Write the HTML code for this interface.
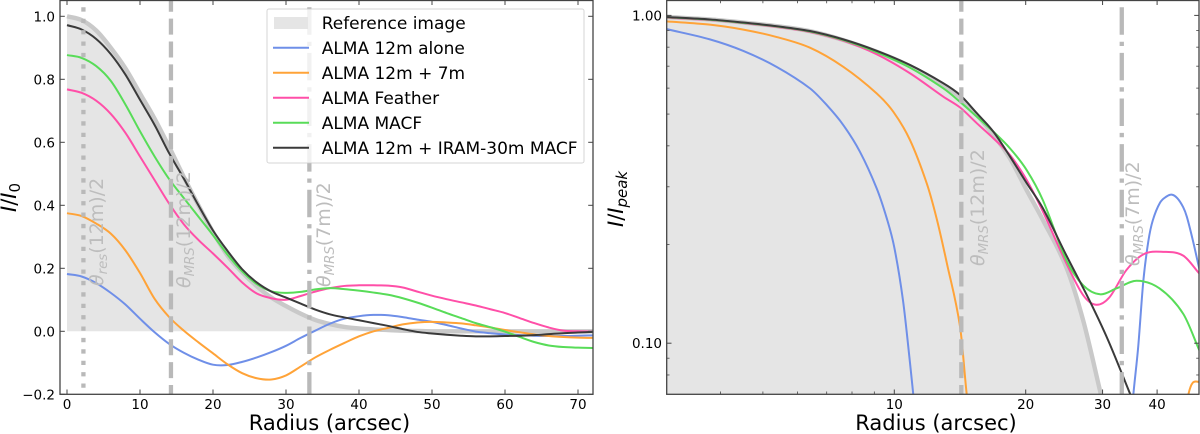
<!DOCTYPE html>
<html lang="en">
<head>
<meta charset="utf-8">
<title>Radial intensity profiles</title>
<style>
html,body{margin:0;padding:0;background:#fff;width:1200px;height:434px;overflow:hidden}
svg{display:block;font-family:"DejaVu Sans","Liberation Sans",sans-serif}
</style>
</head>
<body>
<svg id="fig" width="1200" height="434" viewBox="0 0 1200 434" xmlns="http://www.w3.org/2000/svg">
  <defs>
    <clipPath id="clipL"><rect x="60" y="0.5" width="533" height="393.8"/></clipPath>
    <clipPath id="clipR"><rect x="666.7" y="0.5" width="532.3" height="393.8"/></clipPath>
  </defs>
  <g id="left"></g>
  <g id="right"></g>

  <text transform="translate(16,212) rotate(-90)" font-size="21" fill="#000"><tspan font-style="italic">I</tspan>/<tspan font-style="italic">I</tspan><tspan dy="4" font-size="15">0</tspan></text>
  <text transform="translate(623,227) rotate(-90)" font-size="21" fill="#000"><tspan font-style="italic">I</tspan>/<tspan font-style="italic">I</tspan><tspan dy="4" font-size="15" font-style="italic">peak</tspan></text>
  <text x="329.5" y="430" text-anchor="middle" font-size="21" fill="#000">Radius (arcsec)</text>
  <text x="936" y="430" text-anchor="middle" font-size="21" fill="#000">Radius (arcsec)</text>

  <g font-size="17" fill="#000">
    <rect x="267" y="9" width="317" height="154" rx="2" fill="#fff" fill-opacity="0.8" stroke="#ccc" stroke-opacity="0.8"/>
    <rect x="274" y="17" width="34" height="12" fill="#e5e5e5"/>
    <line x1="273" x2="309" y1="47.8" y2="47.8" stroke="#6f8fe8" stroke-width="2"/>
    <line x1="273" x2="309" y1="72.8" y2="72.8" stroke="#ffa338" stroke-width="2"/>
    <line x1="273" x2="309" y1="97.8" y2="97.8" stroke="#ff4fa8" stroke-width="2"/>
    <line x1="273" x2="309" y1="122.8" y2="122.8" stroke="#58dc58" stroke-width="2"/>
    <line x1="273" x2="309" y1="147.8" y2="147.8" stroke="#3a3a3a" stroke-width="2"/>
    <text x="321.7" y="29">Reference image</text>
    <text x="321.7" y="54">ALMA 12m alone</text>
    <text x="321.7" y="79">ALMA 12m + 7m</text>
    <text x="321.7" y="104">ALMA Feather</text>
    <text x="321.7" y="129">ALMA MACF</text>
    <text x="321.7" y="154">ALMA 12m + IRAM-30m MACF</text>
  </g>
</svg>
<script>
// ---- Linear panel data ----
const leftRadius = [0,2,4,6,8,10,12,14,16,18,20,22,24,26,28,30,32,34,36,38,40,42,44,46,48,50,52,54,56,58,60,62,64,66,68,70,72];
const leftReference = [1.00,.988,.955,.90,.835,.755,.675,.585,.49,.40,.315,.24,.187,.143,.107,.08,.056,.036,.023,.014,.009,.006,.004,.002,.001,0,0,0,0,0,0,0,0,0,0,0,0];
const leftBlue = [.182,.174,.153,.122,.085,.04,-.003,-.04,-.068,-.09,-.106,-.107,-.097,-.083,-.066,-.046,-.021,.002,.024,.04,.048,.052,.051,.045,.037,.03,.02,.009,-.001,-.006,-.01,-.012,-.014,-.015,-.015,-.014,-.013];
const leftOrange = [.375,.366,.342,.31,.257,.185,.103,.045,.002,-.035,-.07,-.105,-.133,-.149,-.153,-.14,-.112,-.083,-.059,-.037,-.016,0,.011,.022,.028,.03,.028,.025,.019,.012,.004,-.003,-.01,-.015,-.018,-.02,-.021];
const leftPink = [.768,.757,.732,.69,.63,.555,.48,.405,.34,.29,.247,.202,.155,.12,.105,.10,.112,.126,.137,.144,.146,.146,.145,.139,.126,.113,.102,.092,.082,.07,.058,.042,.026,.012,.002,0,-.001];
const leftGreen = [.877,.868,.842,.795,.72,.635,.555,.483,.423,.364,.305,.243,.19,.15,.127,.122,.125,.133,.137,.134,.129,.123,.116,.105,.091,.075,.058,.042,.026,.013,-.001,-.018,-.034,-.045,-.05,-.052,-.053];
const leftBlack = [.972,.958,.928,.88,.815,.735,.655,.565,.485,.40,.32,.255,.197,.155,.126,.107,.088,.069,.054,.044,.035,.026,.017,.007,-.002,-.007,-.011,-.014,-.016,-.016,-.015,-.014,-.012,-.009,-.006,-.004,-.002];
const leftXTicks = [0,10,20,30,40,50,60,70];
const leftYTicks = [-0.2,0,0.2,0.4,0.6,0.8,1.0];
const leftYTickLabels = ["\u22120.2","0.0","0.2","0.4","0.6","0.8","1.0"];

// ---- Log panel data ----
const rightRefRadius = [3,3.78,4.51,5.38,6.41,7.64,9.11,10.86,12.95,14.14,15.45,16.86,18.41,20.1,21.9,24.8,27.1,29.6,30.5];
const rightRefValue = [.989,.972,.951,.927,.895,.841,.775,.70,.613,.5625,.497,.432,.366,.293,.2376,.17,.117,.0716,.06];
const rightBlueRadius = [3,3.78,4.51,5.38,6.41,7,7.64,8.34,9.11,9.61,10,10.47,10.87,11.05,11.2,null,35,35.3,36.2,37.2,38.2,39.1,40.6,42,43.2,44.5,45.9,46.8,48.3,50];
const rightBlueValue = [.909,.845,.779,.696,.599,.533,.463,.384,.297,.2404,.196,.135,.0865,.07,.06,null,.06,.07,.0973,.155,.205,.237,.268,.28,.284,.277,.26,.243,.206,.168];
const rightOrangeRadius = [3,3.78,4.51,5.38,6.41,7.64,9.11,9.95,10.86,11.86,12.5,13.2,14.15,14.65,14.9,null,47,47.2,48.3,50];
const rightOrangeValue = [.959,.937,.905,.859,.797,.697,.5785,.508,.417,.308,.2404,.175,.112,.07,.06,null,.065,.07,.0758,.0762];
const rightPinkRadius = [3,3.78,4.51,5.38,6.41,7.64,9.11,10.86,12.95,14.14,15.45,16.86,18.41,20.1,21.9,24.8,27.1,29,31.1,34,37.3,41.3,45.9,50];
const rightPinkValue = [.985,.968,.947,.922,.89,.837,.761,.666,.565,.524,.469,.422,.375,.315,.252,.175,.14,.131,.138,.167,.187,.19,.185,.163];
const rightGreenRadius = [3,3.78,4.51,5.38,6.41,7.64,9.11,10.86,12.95,14.14,15.45,16.86,18.41,20.1,21.9,24.8,27.1,29.6,32.3,35.9,40.5,45.9,50];
const rightGreenValue = [.987,.97,.949,.925,.893,.841,.772,.693,.599,.545,.491,.442,.393,.3375,.273,.179,.15,.141,.147,.155,.147,.123,.095];
const rightBlackRadius = [3,3.78,4.51,5.38,6.41,7.64,9.11,10.86,12.95,14.14,15.45,16.86,18.41,20.1,21.9,24.8,28,30.9,34.7,35.5];
const rightBlackValue = [.989,.972,.951,.927,.896,.845,.78,.706,.621,.572,.503,.442,.371,.308,.258,.185,.135,.102,.07,.065];
const rightXMajor = [10,20,30,40];
const rightXMajorLabels = ["10","20","30","40"];
const rightXMinor = [4,5,6,7,8,9];
const rightYMajor = [1,0.1];
const rightYMajorLabels = ["1.00","0.10"];
const rightYMinor = [0.9,0.8,0.7,0.6,0.5,0.4,0.3,0.2,0.09,0.08];

// ---- Reference scales (arcsec) ----
const scaleRadii = [2.25, 14.24, 33.2];

const NS = "http://www.w3.org/2000/svg";
const xL = r => 67 + 7.3 * r;
const yL = v => 331.3 - 315 * v;
const xR = r => 894.3 + 436.5 * Math.log10(r / 10);
const yR = v => 15.4 - 327.8 * Math.log10(v);

function add(parent, tag, attrs, text) {
  const el = document.createElementNS(NS, tag);
  for (const k in attrs) el.setAttribute(k, attrs[k]);
  if (text !== undefined) el.textContent = text;
  parent.appendChild(el);
  return el;
}

function smooth(points) {
  if (points.length < 2) return "";
  const n = points.length;
  const slope = i => {
    const a = points[Math.max(i - 1, 0)], b = points[Math.min(i + 1, n - 1)];
    return (b[1] - a[1]) / (b[0] - a[0]);
  };
  let d = "M" + points[0][0].toFixed(2) + " " + points[0][1].toFixed(2);
  for (let i = 0; i < n - 1; i++) {
    const p1 = points[i], p2 = points[i + 1];
    const h = (p2[0] - p1[0]) / 3;
    d += "C" + (p1[0] + h).toFixed(2) + " " + (p1[1] + slope(i) * h).toFixed(2) + " " + (p2[0] - h).toFixed(2) + " " + (p2[1] - slope(i + 1) * h).toFixed(2) + " " + p2[0].toFixed(2) + " " + p2[1].toFixed(2);
  }
  return d;
}

function pathFor(rs, vs, fx, fy) {
  let d = "", seg = [];
  rs.forEach((r, i) => {
    if (r === null) { d += smooth(seg); seg = []; }
    else seg.push([fx(r), fy(vs[i])]);
  });
  return d + smooth(seg);
}

function series(g, name, rs, vs, fx, fy, color, width) {
  const p = add(g, "path", { d: pathFor(rs, vs, fx, fy), fill: "none", stroke: color, "stroke-width": width, "stroke-linejoin": "round" });
  
  
}

function vline(g, name, x, dash, top) {
  const l = add(g, "line", { x1: x, x2: x, y1: top, y2: 394.3, stroke: "#b9b9b9", "stroke-width": 4.3, "stroke-dasharray": dash });
  
  
}

function scaleLabel(g, name, bx, by, sub, rest) {
  const t = add(g, "text", { transform: "translate(" + bx + "," + by + ") rotate(-90)", "font-size": 19, fill: "#bdbdbd" });
  
  
  add(t, "tspan", { "font-style": "italic" }, "\u03b8");
  add(t, "tspan", { "font-style": "italic", dy: 4, "font-size": 13.3 }, sub);
  add(t, "tspan", { dy: -4 }, "(" + rest + ")/2");
}

function frame(g, name, x0, x1) {
  const r = add(g, "rect", { x: x0, y: 0.5, width: x1 - x0, height: 393.8, fill: "none", stroke: "#444", "stroke-width": 1.3 });
  
  
}

function tick(g, name, x1, y1, x2, y2, w) {
  const l = add(g, "line", { x1: x1, y1: y1, x2: x2, y2: y2, stroke: "#444", "stroke-width": w });
  
  
}

function tickLabel(g, name, x, y, anchor, s) {
  const t = add(g, "text", { x: x, y: y, "text-anchor": anchor, "font-size": 13.5, fill: "#000" }, s);
  
  
}

// ---- Left panel ----
const gL = document.getElementById("left");
const clipGL = add(gL, "g", { "clip-path": "url(#clipL)" });
const fillL = add(clipGL, "path", { d: smooth(leftRadius.map((r, i) => [xL(r), yL(leftReference[i])])) + "L" + xL(leftRadius[leftRadius.length - 1]) + " " + yL(0) + "L" + xL(leftRadius[0]) + " " + yL(0) + "Z", fill: "#e5e5e5" });


series(clipGL, "reference-line", leftRadius, leftReference, xL, yL, "#c9c9c9", 4.4);
series(clipGL, "alma-12m-line", leftRadius, leftBlue, xL, yL, "#6f8fe8", 2);
series(clipGL, "alma-12m-7m-line", leftRadius, leftOrange, xL, yL, "#ffa338", 2);
series(clipGL, "alma-feather-line", leftRadius, leftPink, xL, yL, "#ff4fa8", 2);
series(clipGL, "alma-macf-line", leftRadius, leftGreen, xL, yL, "#58dc58", 2);
series(clipGL, "alma-iram-macf-line", leftRadius, leftBlack, xL, yL, "#3a3a3a", 2);
vline(clipGL, "res-12m-line", xL(scaleRadii[0]), "4.3 7.1", 7.3);
vline(clipGL, "mrs-12m-line", xL(scaleRadii[1]), "16 6.9", -4.3);
vline(clipGL, "mrs-7m-line", xL(scaleRadii[2]), "27.5 6.9 4.3 6.9", 7.3);
scaleLabel(gL, "res-12m-label", 103, 286, "res", "12m");
scaleLabel(gL, "mrs-12m-label", 190, 288, "MRS", "12m");
scaleLabel(gL, "mrs-7m-label", 330, 287, "MRS", "7m");
frame(gL, "left-axes-frame", 60, 593);
leftXTicks.forEach(v => {
  tick(gL, "left-x-tick", xL(v), 394.3, xL(v), 389.5, 1);
  tick(gL, "left-x-tick-top", xL(v), 0.5, xL(v), 5, 1);
  tickLabel(gL, "left-x-tick-label", xL(v), 409, "middle", String(v));
});
leftYTicks.forEach((v, i) => {
  tick(gL, "left-y-tick", 60, yL(v), 64.8, yL(v), 1);
  tick(gL, "left-y-tick-right", 593, yL(v), 588.2, yL(v), 1);
  tickLabel(gL, "left-y-tick-label", 55, yL(v) + 5, "end", leftYTickLabels[i]);
});

// ---- Right panel ----
const gR = document.getElementById("right");
const clipGR = add(gR, "g", { "clip-path": "url(#clipR)" });
const fillR = add(clipGR, "path", { d: smooth(rightRefRadius.map((r, i) => [xR(r), yR(rightRefValue[i])])) + "L" + xR(rightRefRadius[rightRefRadius.length - 1]) + " 400L" + xR(rightRefRadius[0]) + " 400Z", fill: "#e5e5e5" });


series(clipGR, "reference-line-log", rightRefRadius, rightRefValue, xR, yR, "#c9c9c9", 4.4);
series(clipGR, "alma-12m-line-log", rightBlueRadius, rightBlueValue, xR, yR, "#6f8fe8", 2);
series(clipGR, "alma-12m-7m-line-log", rightOrangeRadius, rightOrangeValue, xR, yR, "#ffa338", 2);
series(clipGR, "alma-feather-line-log", rightPinkRadius, rightPinkValue, xR, yR, "#ff4fa8", 2);
series(clipGR, "alma-macf-line-log", rightGreenRadius, rightGreenValue, xR, yR, "#58dc58", 2);
series(clipGR, "alma-iram-macf-line-log", rightBlackRadius, rightBlackValue, xR, yR, "#3a3a3a", 2);
vline(clipGR, "mrs-12m-line-log", xR(scaleRadii[1]), "16 6.9", -4.3);
vline(clipGR, "mrs-7m-line-log", xR(scaleRadii[2]), "27.5 6.9 4.3 6.9", 7.3);
scaleLabel(gR, "mrs-12m-label-log", 984, 266, "MRS", "12m");
scaleLabel(gR, "mrs-7m-label-log", 1139, 266, "MRS", "7m");
frame(gR, "right-axes-frame", 666.7, 1199);
rightXMajor.forEach((v, i) => {
  tick(gR, "right-x-tick", xR(v), 394.3, xR(v), 389.5, 1);
  tick(gR, "right-x-tick-top", xR(v), 0.5, xR(v), 5, 1);
  tickLabel(gR, "right-x-tick-label", xR(v), 409, "middle", rightXMajorLabels[i]);
});
rightXMinor.forEach(v => {
  tick(gR, "right-x-minor-tick", xR(v), 394.3, xR(v), 391.5, 0.8);
  tick(gR, "right-x-minor-tick-top", xR(v), 0.5, xR(v), 3.3, 0.8);
});
rightYMajor.forEach((v, i) => {
  tick(gR, "right-y-tick", 666.7, yR(v), 671.5, yR(v), 1);
  tick(gR, "right-y-tick-right", 1199, yR(v), 1194.2, yR(v), 1);
  tickLabel(gR, "right-y-tick-label", 662, yR(v) + 5, "end", rightYMajorLabels[i]);
});
rightYMinor.forEach(v => {
  tick(gR, "right-y-minor-tick", 666.7, yR(v), 669.5, yR(v), 0.8);
  tick(gR, "right-y-minor-tick-right", 1199, yR(v), 1196.2, yR(v), 0.8);
});
</script>
</body>
</html>
